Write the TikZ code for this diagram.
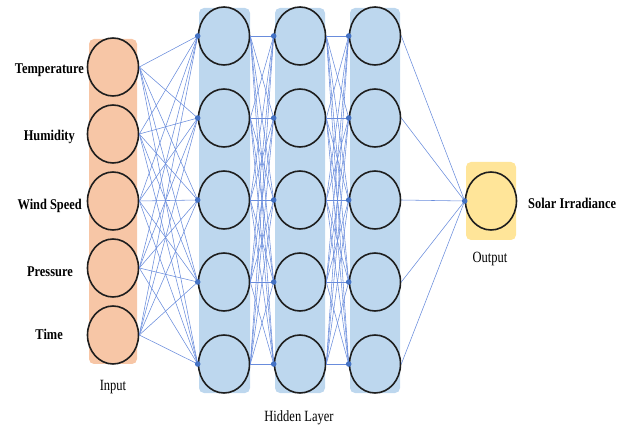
\documentclass[tikz,border=0pt]{standalone}
\usepackage{fontspec}
\usepackage{graphicx}
\setmainfont{Liberation Serif}
\usetikzlibrary{shapes.geometric}
\definecolor{inorange}{RGB}{247,198,166}
\definecolor{hidblue}{RGB}{189,215,238}
\definecolor{outyellow}{RGB}{255,229,153}
\definecolor{linkblue}{RGB}{105,140,220}
\definecolor{dotblue}{RGB}{68,114,196}
\definecolor{ringdark}{RGB}{30,30,30}
\newcommand{\tallbold}[1]{\scalebox{1}[1.2]{\bfseries\fontsize{12.4}{14}\selectfont #1}}
\newcommand{\tallplain}[1]{\scalebox{1}[1.25]{\fontsize{12.5}{14}\selectfont #1}}
\tikzset{
  neuron/.style={ellipse, minimum width=51pt, minimum height=58pt, inner sep=0pt, draw=ringdark, line width=1.6pt},
  band/.style={rounded corners=5pt, draw=none},
  link/.style={draw=linkblue, line width=0.55pt},
  jointdot/.style={fill=dotblue, draw=none},
  featlabel/.style={anchor=base east, inner sep=0pt},
  caption/.style={anchor=base, inner sep=0pt}
}
\begin{document}
\begin{tikzpicture}[x=1pt,y=-1pt]
\useasboundingbox (0,0) rectangle (641,425);
% bands
\fill[band, inorange] (89,39) rectangle (137,364);
\fill[band, hidblue] (199,8) rectangle (250,393);
\fill[band, hidblue] (275,8) rectangle (325,393);
\fill[band, hidblue] (350,8) rectangle (400,393);
\fill[band, outyellow] (466,162) rectangle (516,240);
% neurons
\foreach \k in {1,...,5} {
  \node[neuron, fill=inorange] (i\k) at (113,{67+67*(\k-1)}) {};
}
\foreach \c/\x in {1/224,2/300,3/375} {
  \foreach \r in {1,...,5} {
    \node[neuron, fill=hidblue] (h\c\r) at (\x,{36+82*(\r-1)}) {};
  }
}
\node[neuron, fill=outyellow] (o) at (491,201) {};
% links
\foreach \a in {1,...,5} {
  \foreach \b in {1,...,5} {
    \draw[link] (i\a.east) -- (h1\b.west);
    \draw[link] (h1\a.east) -- (h2\b.west);
    \draw[link] (h2\a.east) -- (h3\b.west);
  }
  \draw[link] (h3\a.east) -- (o.west);
}
% dots
\foreach \c in {1,2,3} {
  \foreach \r in {1,...,5} {
    \fill[jointdot] (h\c\r.west) circle (2.8pt);
  }
}
\fill[jointdot] (o.west) circle (2.8pt);
% labels
\node[featlabel] (t1) at (84,73.3) {\tallbold{Temperature}};
\node[featlabel] (t2) at (75,141) {\tallbold{Humidity}};
\node[featlabel] (t3) at (82,209.3) {\tallbold{Wind Speed}};
\node[featlabel] (t4) at (73,277) {\tallbold{Pressure}};
\node[featlabel] (t5) at (63,339.3) {\tallbold{Time}};
\node[featlabel, anchor=base west] (sol) at (528,208.3) {\tallbold{Solar Irradiance}};
\node[caption] (cin) at (113,391) {\tallplain{Input}};
\node[caption] (cout) at (490,263) {\tallplain{Output}};
\node[caption] (chid) at (299,421.5) {\tallplain{Hidden Layer}};
\end{tikzpicture}
\end{document}
